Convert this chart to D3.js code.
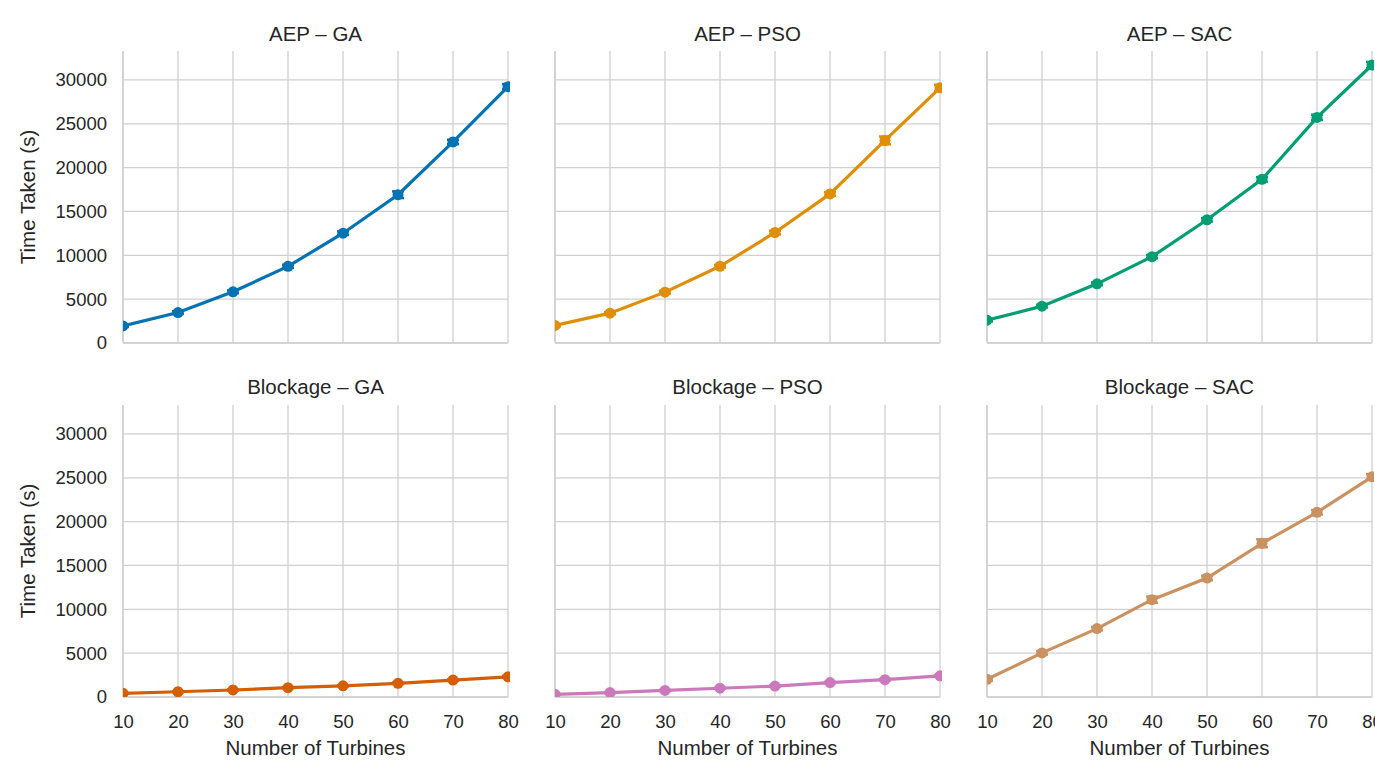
<!DOCTYPE html>
<html>
<head>
<meta charset="utf-8">
<script src="https://cdn.jsdelivr.net/npm/d3@7"></script>
<style>
    body { margin: 0; background: white; }
    svg text { font-family: "Liberation Sans", Arial, sans-serif; fill: #262626; }
</style>
</head>
<body>
<div id="chart"></div>
<script>
// turbines on the x axis
var turbines = [10, 20, 30, 40, 50, 60, 70, 80]
var yTicks = [0, 5000, 10000, 15000, 20000, 25000, 30000]

// mean time taken (s) for each panel
var aep_ga = [1950, 3470, 5840, 8740, 12520, 16910, 22930, 29230]
var aep_pso = [2000, 3400, 5800, 8750, 12600, 17000, 23100, 29100]
var aep_sac = [2600, 4200, 6750, 9850, 14050, 18660, 25730, 31700]
var blk_ga = [420, 600, 800, 1060, 1280, 1560, 1930, 2300]
var blk_pso = [300, 500, 750, 1000, 1250, 1650, 1980, 2420]
var blk_sac = [2010, 5030, 7800, 11100, 13560, 17530, 21060, 25110]

// half width of the error bars
var aep_ga_err = [120, 150, 150, 180, 200, 380, 250, 300]
var aep_pso_err = [100, 120, 150, 150, 200, 200, 450, 350]
var aep_sac_err = [150, 150, 150, 180, 200, 250, 300, 350]
var blk_ga_err = [40, 50, 60, 60, 70, 80, 90, 100]
var blk_pso_err = [40, 50, 60, 60, 70, 80, 90, 100]
var blk_sac_err = [150, 200, 200, 350, 250, 450, 250, 300]

var panels = [
    { title: "AEP \u2013 GA", values: aep_ga, err: aep_ga_err, color: "#0173b2" },
    { title: "AEP \u2013 PSO", values: aep_pso, err: aep_pso_err, color: "#de8f05" },
    { title: "AEP \u2013 SAC", values: aep_sac, err: aep_sac_err, color: "#029e73" },
    { title: "Blockage \u2013 GA", values: blk_ga, err: blk_ga_err, color: "#d55e00" },
    { title: "Blockage \u2013 PSO", values: blk_pso, err: blk_pso_err, color: "#cc78bc" },
    { title: "Blockage \u2013 SAC", values: blk_sac, err: blk_sac_err, color: "#ca9161" }
]

var W = 1375, H = 762
var colX = [123, 555, 987]
var rowY = [51, 405]
var pw = 385, ph = 292
var grid = "#d0d0d0"

var svg = d3.select("#chart").append("svg")
    .attr("width", W)
    .attr("height", H)

var xScale = d3.scaleLinear().domain([10, 80]).range([0, pw])
var yScale = d3.scaleLinear().domain([0, 33300]).range([ph, 0])

panels.forEach(function (p, i) {
    var col = i % 3, row = Math.floor(i / 3)
    var g = svg.append("g")
        .attr("transform", "translate(" + colX[col] + "," + rowY[row] + ")")

    // grid lines
    g.append("g").selectAll("line.vg")
        .data(turbines)
        .enter().append("line")
        .attr("x1", function (d) { return xScale(d) })
        .attr("x2", function (d) { return xScale(d) })
        .attr("y1", 0).attr("y2", ph)
        .attr("stroke", grid).attr("stroke-width", 1.3)
    g.append("g").selectAll("line.hg")
        .data(yTicks)
        .enter().append("line")
        .attr("x1", 0).attr("x2", pw)
        .attr("y1", function (d) { return yScale(d) })
        .attr("y2", function (d) { return yScale(d) })
        .attr("stroke", grid).attr("stroke-width", 1.3)

    // spines
    g.append("line").attr("x1", 0).attr("x2", 0).attr("y1", 0).attr("y2", ph)
        .attr("stroke", grid).attr("stroke-width", 1.5)
    g.append("line").attr("x1", 0).attr("x2", pw).attr("y1", ph).attr("y2", ph)
        .attr("stroke", grid).attr("stroke-width", 1.5)

    // axes text
    if (col == 0) {
        var ya = g.append("g").call(d3.axisLeft(yScale).tickValues(yTicks).tickSize(0).tickPadding(16).tickFormat(d3.format("d")))
        ya.select(".domain").remove()
        ya.selectAll("text").style("font-size", "18.5px").style("fill", "#262626")
        g.append("text")
            .attr("transform", "rotate(-90)")
            .attr("x", -ph / 2)
            .attr("y", -88)
            .attr("text-anchor", "middle")
            .style("font-size", "20.5px")
            .text("Time Taken (s)")
    }
    if (row == 1) {
        var xa = g.append("g").attr("transform", "translate(0," + ph + ")")
            .call(d3.axisBottom(xScale).tickValues(turbines).tickSize(0).tickPadding(18).tickFormat(d3.format("d")))
        xa.select(".domain").remove()
        xa.selectAll("text").style("font-size", "18.5px").style("fill", "#262626")
        g.append("text")
            .attr("x", pw / 2)
            .attr("y", ph + 58)
            .attr("text-anchor", "middle")
            .style("font-size", "20.5px")
            .text("Number of Turbines")
    }

    // title
    g.append("text")
        .attr("x", pw / 2)
        .attr("y", row == 0 ? -10 : -11)
        .attr("text-anchor", "middle")
        .style("font-size", "20.5px")
        .text(p.title)

    // clip so edge markers are cut like the original
    g.append("clipPath").attr("id", "clip" + i)
        .append("rect").attr("x", 0).attr("y", -10).attr("width", pw + 2).attr("height", ph + 10)
    var plot = g.append("g").attr("clip-path", "url(#clip" + i + ")")

    var pts = turbines.map(function (t, j) { return { x: t, y: p.values[j], e: p.err[j] } })

    var line = d3.line()
        .x(function (d) { return xScale(d.x) })
        .y(function (d) { return yScale(d.y) })
    plot.append("path")
        .datum(pts)
        .attr("fill", "none")
        .attr("stroke", p.color)
        .attr("stroke-width", 3.2)
        .attr("d", line)

    // error bars with caps
    var eb = plot.append("g").selectAll("g")
        .data(pts)
        .enter().append("g")
        .attr("stroke", p.color)
        .attr("stroke-width", 2.5)
    eb.append("line")
        .attr("x1", function (d) { return xScale(d.x) })
        .attr("x2", function (d) { return xScale(d.x) })
        .attr("y1", function (d) { return yScale(d.y - d.e) })
        .attr("y2", function (d) { return yScale(d.y + d.e) })
    eb.append("line")
        .attr("x1", function (d) { return xScale(d.x) - 6 })
        .attr("x2", function (d) { return xScale(d.x) + 6 })
        .attr("y1", function (d) { return yScale(d.y - d.e) })
        .attr("y2", function (d) { return yScale(d.y - d.e) })
    eb.append("line")
        .attr("x1", function (d) { return xScale(d.x) - 6 })
        .attr("x2", function (d) { return xScale(d.x) + 6 })
        .attr("y1", function (d) { return yScale(d.y + d.e) })
        .attr("y2", function (d) { return yScale(d.y + d.e) })

    plot.append("g").selectAll("circle")
        .data(pts)
        .enter().append("circle")
        .attr("cx", function (d) { return xScale(d.x) })
        .attr("cy", function (d) { return yScale(d.y) })
        .attr("r", 5.5)
        .style("fill", p.color)
})
</script>
</body>
</html>
